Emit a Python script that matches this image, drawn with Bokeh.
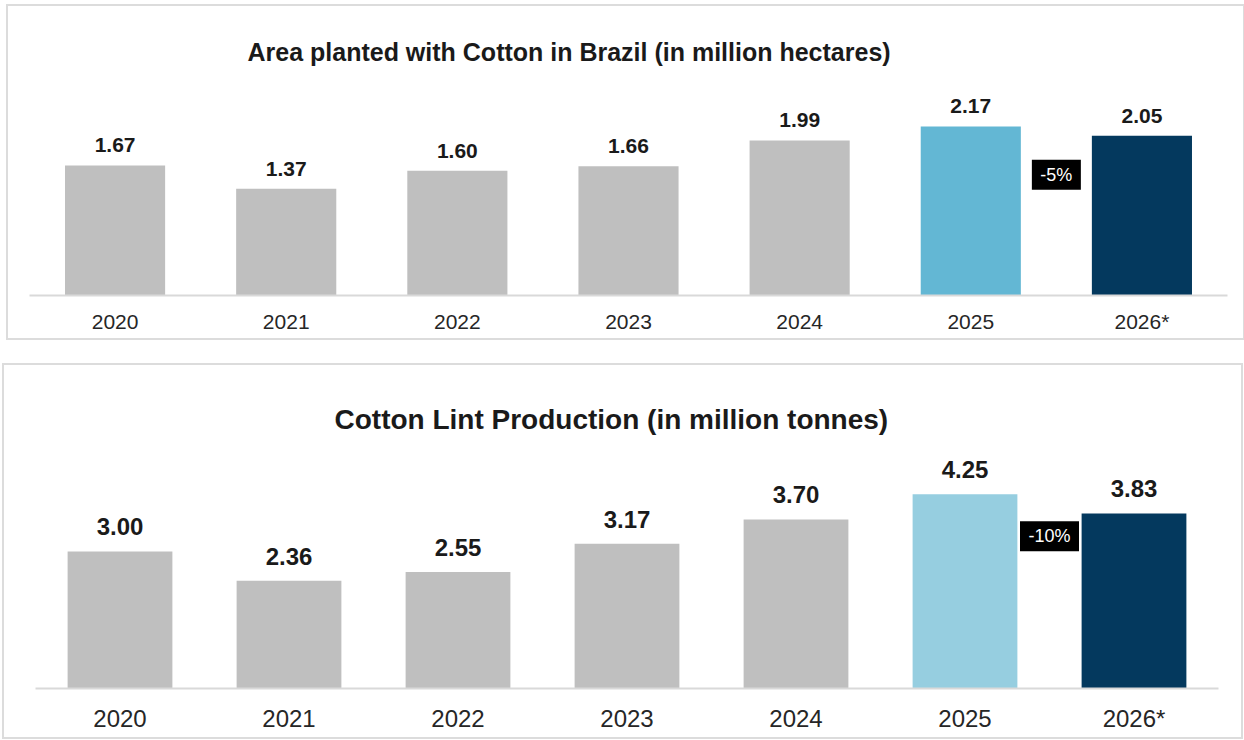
from bokeh.plotting import figure
from bokeh.models import ColumnDataSource, Range1d, FactorRange, LabelSet
from bokeh.transform import dodge
from bokeh.embed import file_html
from bokeh.resources import INLINE
from bokeh.core.properties import value

# ---------------- data ----------------
years = ["2020", "2021", "2022", "2023", "2024", "2025", "2026*"]
area_values = [1.67, 1.37, 1.60, 1.66, 1.99, 2.17, 2.05]
lint_values = [3.00, 2.36, 2.55, 3.17, 3.70, 4.25, 3.83]
area_title = "Area planted with Cotton in Brazil (in million hectares)"
lint_title = "Cotton Lint Production (in million tonnes)"
area_change = "-5%"
lint_change = "-10%"

# ---------------- styles ----------------
GRAY = "#BFBFBF"
NAVY = "#04395E"
area_colors = [GRAY] * 5 + ["#63B7D4", NAVY]
lint_colors = [GRAY] * 5 + ["#96CEE0", NAVY]
FONT = "Liberation Sans"


def panel(title, vals, colors, change, cfg):
    src = ColumnDataSource(dict(
        year=years, val=vals, color=colors,
        label=["%.2f" % v for v in vals],
    ))
    p = figure(
        x_range=FactorRange(*years, range_padding=0),
        y_range=Range1d(0, cfg["ymax"]),
        width=cfg["width"], height=cfg["height"],
        min_border_left=cfg["bl"], min_border_right=cfg["br"],
        min_border_top=cfg["bt"], min_border_bottom=cfg["bb"],
        y_axis_location=None,
        output_backend="svg", toolbar_location=None,
        title=title,
    )
    p.margin = cfg["margin"]
    p.styles = {"outline": "2px solid #DCDCDC"}
    p.outline_line_color = None
    p.xgrid.grid_line_color = None
    p.ygrid.grid_line_color = None
    p.background_fill_color = "white"
    p.border_fill_color = "white"

    p.title.text_font = FONT
    p.title.text_font_size = cfg["title_size"]
    p.title.text_font_style = "bold"
    p.title.text_color = "#1A1A1A"
    p.title.align = "left"
    p.title.offset = cfg["title_offset"]

    p.vbar(x="year", top="val", width=cfg["bar_w"], bottom=0,
           source=src, fill_color="color", line_color=None)

    labels = LabelSet(x="year", y="val", text="label", source=src,
                      text_align="center", text_baseline="alphabetic",
                      y_offset=cfg["lab_off"], text_font=value(FONT),
                      text_font_size=cfg["lab_size"], text_font_style="bold",
                      text_color="#1A1A1A")
    p.add_layout(labels)

    # change box between 2025 and 2026*
    csrc = ColumnDataSource(dict(year=[years[5]], y=[cfg["box_y"]], t=[change]))
    xpos = dodge("year", 0.5, range=p.x_range)
    p.rect(x=xpos, y="y", width=cfg["box_w"], height=30,
           width_units="screen", height_units="screen",
           fill_color="black", line_color=None, source=csrc)
    p.text(x=xpos, y="y", text="t", source=csrc, text_color="white",
           text_align="center", text_baseline="middle",
           text_font=value(FONT), text_font_size="18px")

    ax = p.xaxis
    ax.axis_line_color = "#D9D9D9"
    ax.axis_line_width = 2
    ax.major_tick_line_color = None
    ax.minor_tick_line_color = None
    ax.major_tick_out = 0
    ax.major_tick_in = 0
    ax.major_label_standoff = cfg["tick_standoff"]
    ax.major_label_text_font = FONT
    ax.major_label_text_font_size = cfg["tick_size"]
    ax.major_label_text_color = "#262626"
    return p


p1 = panel(area_title, area_values, area_colors, area_change, dict(
    margin=(6, 0, 0, 8),
    width=1235, height=332, bl=21, br=16, bt=64, bb=43,
    ymax=(295 - 70) / 77.9, bar_w=0.585, title_size="25px", title_offset=218,
    lab_off=13, lab_size="21px", box_y=1.55, box_w=49,
    tick_standoff=14, tick_size="21px"))

p2 = panel(lint_title, lint_values, lint_colors, lint_change, dict(
    margin=(27, 0, 0, 4),
    width=1237, height=372, bl=31, br=23, bt=74, bb=49,
    ymax=(688 - 439) / 45.7, bar_w=0.62, title_size="28px", title_offset=299,
    lab_off=16, lab_size="24px", box_y=3.33, box_w=59,
    tick_standoff=16, tick_size="24px"))

# two independent roots so the two plot frames are not aligned to each other
open("out.html", "w").write(file_html((p1, p2), INLINE))
